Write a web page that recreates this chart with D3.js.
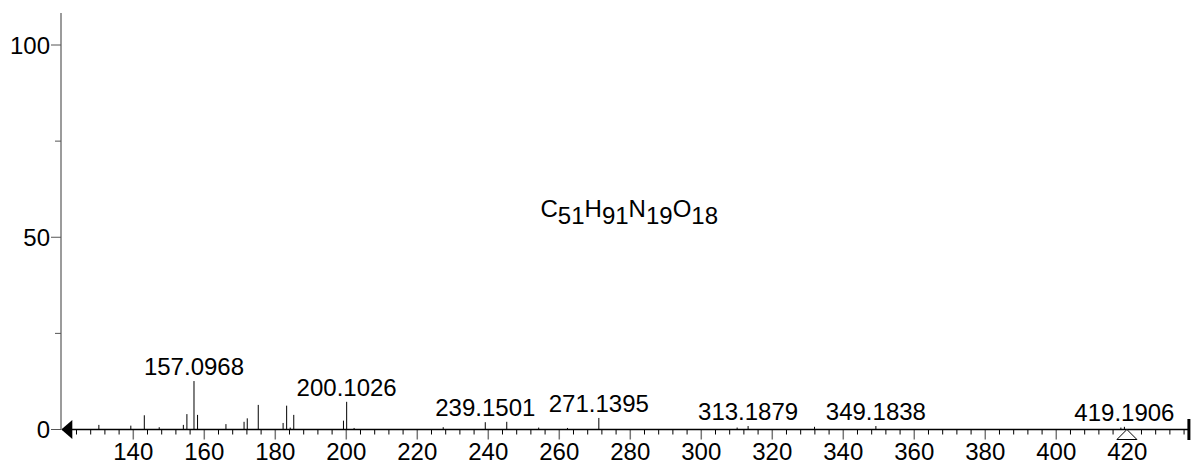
<!DOCTYPE html>
<html>
<head>
<meta charset="utf-8">
<script src="https://cdn.jsdelivr.net/npm/d3@7"></script>
<style>
  html, body { margin: 0; padding: 0; background: #fff; }
  svg { display: block; }
  text { font-family: "Liberation Sans", Arial, Helvetica, sans-serif; fill: #000; }
</style>
</head>
<body>
<svg id="chart" width="1191" height="464"></svg>
<script>
// ---- data ----
const peakMz = [130.3, 139.3, 143.1, 147.3, 154.1, 155.1, 157.0968, 158.1, 166.1, 171.2, 172.1, 175.2,
  182.2, 183.2, 184.2, 185.2, 199.2, 200.1026, 202.2, 227.3, 239.1501, 245.2, 254.2, 262.3,
  271.1395, 310.1, 313.1879, 331.9, 349.1838, 418.2, 419.1906];
const peakIntensity = [1.2, 1.0, 3.7, 0.6, 1.2, 4.0, 12.6, 3.8, 1.4, 2.0, 2.9, 6.4,
  1.7, 6.2, 0.5, 3.8, 2.3, 7.2, 0.4, 0.6, 1.9, 2.0, 0.5, 0.4,
  3.0, 0.5, 0.9, 0.7, 0.9, 0.5, 0.7];
const labeledMz = [157.0968, 200.1026, 239.1501, 271.1395, 313.1879, 349.1838, 419.1906];
const labelText = ["157.0968", "200.1026", "239.1501", "271.1395", "313.1879", "349.1838", "419.1906"];
const xMajorTicks = [140, 160, 180, 200, 220, 240, 260, 280, 300, 320, 340, 360, 380, 400, 420];
const yMajorTicks = [0, 50, 100];
const yMinorTicks = [25, 75];
const precursorMz = 419.9;
const formulaParts = [["C", false], ["51", true], ["H", false], ["91", true], ["N", false], ["19", true], ["O", false], ["18", true]];

// ---- scales ----
const x = d3.scaleLinear().domain([120, 437.5]).range([62.3, 1189.4]);
const y = d3.scaleLinear().domain([0, 100]).range([429.5, 45]);
const yTop = 13;

const svg = d3.select("#chart");

// y axis
svg.append("line").attr("x1", 61).attr("x2", 61).attr("y1", yTop).attr("y2", y(0))
  .attr("stroke", "#7a7a7a").attr("stroke-width", 1.5);
svg.selectAll(".ymaj").data(yMajorTicks).enter().append("line")
  .attr("x1", 51).attr("x2", 61).attr("y1", d => y(d)).attr("y2", d => y(d))
  .attr("stroke", "#555").attr("stroke-width", 1);
svg.selectAll(".ymin").data(yMinorTicks).enter().append("line")
  .attr("x1", 55).attr("x2", 61).attr("y1", d => y(d)).attr("y2", d => y(d))
  .attr("stroke", "#555").attr("stroke-width", 1);
svg.selectAll(".ylab").data(yMajorTicks).enter().append("text")
  .attr("x", 50).attr("y", d => y(d)).attr("dy", "0.36em")
  .attr("text-anchor", "end").attr("font-size", 24).text(d => d);

// x axis minor ticks every 4
const xMinor = d3.range(124, 437, 4).filter(v => v % 20 !== 0);
svg.selectAll(".xmin").data(xMinor).enter().append("line")
  .attr("x1", d => x(d)).attr("x2", d => x(d)).attr("y1", y(0)).attr("y2", y(0) + 5)
  .attr("stroke", "#000").attr("stroke-width", 1);
svg.selectAll(".xmaj").data(xMajorTicks).enter().append("line")
  .attr("x1", d => x(d)).attr("x2", d => x(d)).attr("y1", y(0)).attr("y2", y(0) + 10)
  .attr("stroke", "#777").attr("stroke-width", 1.5);
svg.selectAll(".xlab").data(xMajorTicks).enter().append("text")
  .attr("x", d => x(d)).attr("y", 459.5)
  .attr("text-anchor", "middle").attr("font-size", 24).text(d => d);

// peaks
svg.selectAll(".peak").data(peakMz).enter().append("line")
  .attr("x1", d => x(d)).attr("x2", d => x(d))
  .attr("y1", y(0)).attr("y2", (d, i) => y(peakIntensity[i]))
  .attr("stroke", "#000").attr("stroke-width", 1);

// x axis line
svg.append("line").attr("x1", x(120)).attr("x2", x(437.5)).attr("y1", y(0)).attr("y2", y(0))
  .attr("stroke", "#000").attr("stroke-width", 1.5);

// left arrow & right bar
svg.append("path")
  .attr("d", `M${x(120) - 1},${y(0)} L${x(120) + 10},${y(0) - 9.5} L${x(120) + 10},${y(0) + 9.5} Z`)
  .attr("fill", "#000");
svg.append("line").attr("x1", x(437.5) - 0.5).attr("x2", x(437.5) - 0.5)
  .attr("y1", y(0) - 10.5).attr("y2", y(0) + 10.5).attr("stroke", "#000").attr("stroke-width", 3);

// precursor marker
const px = x(precursorMz);
svg.append("path")
  .attr("d", `M${px},${y(0)} L${px - 10},${y(0) + 10} L${px + 10},${y(0) + 10} Z`)
  .attr("fill", "#fff").attr("stroke", "#000").attr("stroke-width", 1);

// peak labels
svg.selectAll(".plab").data(labeledMz).enter().append("text")
  .attr("x", d => x(d))
  .attr("y", d => y(peakIntensity[peakMz.indexOf(d)]) - 6)
  .attr("text-anchor", "middle").attr("font-size", 24)
  .text((d, i) => labelText[i]);

// formula
const ft = svg.append("text").attr("x", 540.5).attr("y", 217).attr("font-size", 24);
let prevSub = false;
formulaParts.forEach(([t, sub]) => {
  const dy = sub === prevSub ? 0 : (sub ? 7 : -7);
  ft.append("tspan").attr("dy", dy).text(t);
  prevSub = sub;
});
</script>
</body>
</html>
